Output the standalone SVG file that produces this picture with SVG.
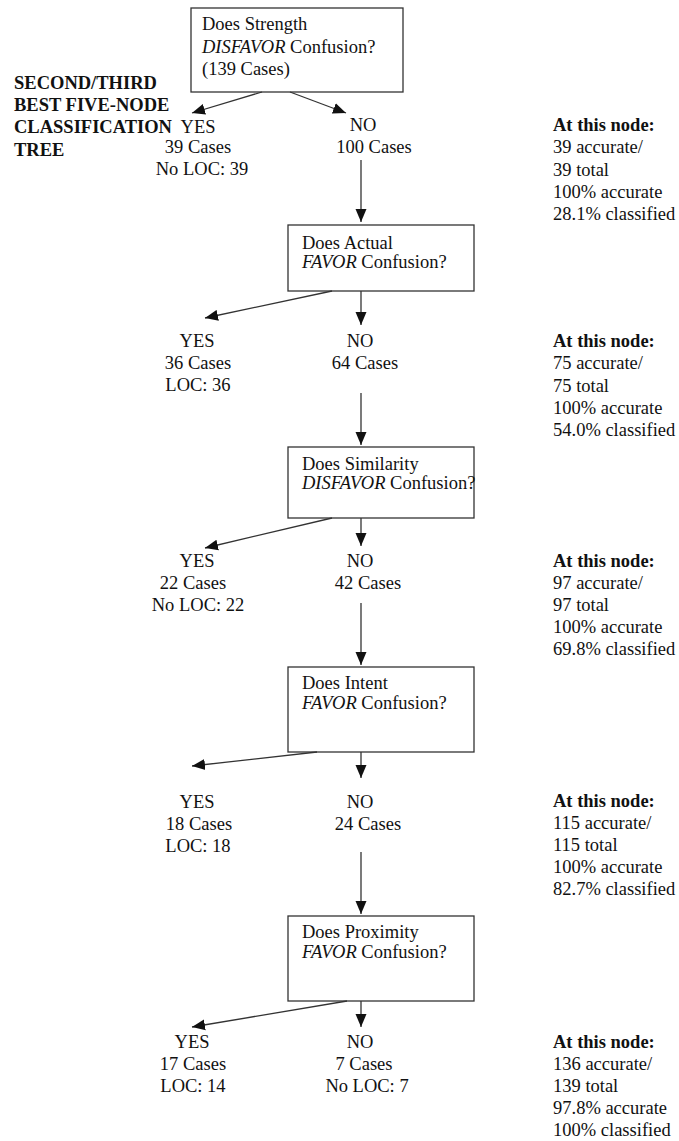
<svg xmlns="http://www.w3.org/2000/svg" width="679" height="1141" viewBox="0 0 679 1141">
<style>
text{font-family:"Liberation Serif","Times New Roman",serif;font-size:18.5px;fill:#111}
.b{font-weight:bold}
.c{text-anchor:middle}
.i{font-style:italic}
rect{fill:#fff;stroke:#333;stroke-width:1.3}
.con line{stroke:#333;stroke-width:1.3;marker-end:url(#ah)}
</style>
<defs>
<marker id="ah" markerUnits="userSpaceOnUse" markerWidth="14" markerHeight="12" refX="13" refY="6" orient="auto">
<path d="M0,0.5 L13,6 L0,11.5 z" fill="#111"/>
</marker>
</defs>
<rect width="679" height="1141" style="fill:#fff;stroke:none"/>
<g id="title">
<text class="b" x="14" y="89">SECOND/THIRD</text>
<text class="b" x="14" y="111">BEST FIVE-NODE</text>
<text class="b" x="14" y="133">CLASSIFICATION</text>
<text class="b" x="14" y="156">TREE</text>
</g>
<g id="n1">
<rect x="191" y="8" width="212" height="84"/>
<text x="202" y="30">Does Strength</text>
<text x="202" y="53"><tspan class="i">DISFAVOR</tspan> Confusion?</text>
<text x="202" y="75">(139 Cases)</text>
</g>
<g id="n2">
<rect x="288" y="225" width="186" height="66"/>
<text x="302" y="249">Does Actual</text>
<text x="302" y="268"><tspan class="i">FAVOR</tspan> Confusion?</text>
</g>
<g id="n3">
<rect x="288" y="447" width="186" height="71"/>
<text x="302" y="470">Does Similarity</text>
<text x="302" y="489"><tspan class="i">DISFAVOR</tspan> Confusion?</text>
</g>
<g id="n4">
<rect x="288" y="667" width="186" height="85"/>
<text x="302" y="689">Does Intent</text>
<text x="302" y="709"><tspan class="i">FAVOR</tspan> Confusion?</text>
</g>
<g id="n5">
<rect x="288" y="916" width="186" height="85"/>
<text x="302" y="938">Does Proximity</text>
<text x="302" y="958"><tspan class="i">FAVOR</tspan> Confusion?</text>
</g>
<g id="yes1">
<text class="c" x="198" y="133">YES</text>
<text class="c" x="198" y="153">39 Cases</text>
<text class="c" x="202" y="175">No LOC: 39</text>
</g>
<g id="no1">
<text class="c" x="363" y="131">NO</text>
<text class="c" x="374" y="153">100 Cases</text>
</g>
<g id="yes2">
<text class="c" x="197" y="347">YES</text>
<text class="c" x="198" y="369">36 Cases</text>
<text class="c" x="198" y="391">LOC: 36</text>
</g>
<g id="no2">
<text class="c" x="360" y="347">NO</text>
<text class="c" x="365" y="369">64 Cases</text>
</g>
<g id="yes3">
<text class="c" x="197" y="567">YES</text>
<text class="c" x="193" y="589">22 Cases</text>
<text class="c" x="198" y="611">No LOC: 22</text>
</g>
<g id="no3">
<text class="c" x="360" y="567">NO</text>
<text class="c" x="368" y="589">42 Cases</text>
</g>
<g id="yes4">
<text class="c" x="197" y="808">YES</text>
<text class="c" x="199" y="830">18 Cases</text>
<text class="c" x="198" y="852">LOC: 18</text>
</g>
<g id="no4">
<text class="c" x="360" y="808">NO</text>
<text class="c" x="368" y="830">24 Cases</text>
</g>
<g id="yes5">
<text class="c" x="192" y="1048">YES</text>
<text class="c" x="193" y="1070">17 Cases</text>
<text class="c" x="193" y="1092">LOC: 14</text>
</g>
<g id="no5">
<text class="c" x="360" y="1048">NO</text>
<text class="c" x="364" y="1070">7 Cases</text>
<text class="c" x="367" y="1092">No LOC: 7</text>
</g>
<g id="stats1">
<text class="b" x="553" y="131">At this node:</text>
<text x="553" y="153">39 accurate/</text>
<text x="553" y="176">39 total</text>
<text x="553" y="198">100% accurate</text>
<text x="553" y="220">28.1% classified</text>
</g>
<g id="stats2">
<text class="b" x="553" y="347">At this node:</text>
<text x="553" y="369">75 accurate/</text>
<text x="553" y="392">75 total</text>
<text x="553" y="414">100% accurate</text>
<text x="553" y="436">54.0% classified</text>
</g>
<g id="stats3">
<text class="b" x="553" y="567">At this node:</text>
<text x="553" y="589">97 accurate/</text>
<text x="553" y="611">97 total</text>
<text x="553" y="633">100% accurate</text>
<text x="553" y="655">69.8% classified</text>
</g>
<g id="stats4">
<text class="b" x="553" y="807">At this node:</text>
<text x="553" y="829">115 accurate/</text>
<text x="553" y="851">115 total</text>
<text x="553" y="873">100% accurate</text>
<text x="553" y="895">82.7% classified</text>
</g>
<g id="stats5">
<text class="b" x="553" y="1048">At this node:</text>
<text x="553" y="1070">136 accurate/</text>
<text x="553" y="1092">139 total</text>
<text x="553" y="1114">97.8% accurate</text>
<text x="553" y="1136">100% classified</text>
</g>
<g id="connectors" class="con">
<line x1="262" y1="92" x2="192" y2="113"/>
<line x1="290" y1="92" x2="346" y2="113"/>
<line x1="361" y1="160" x2="361" y2="222"/>
<line x1="332" y1="291" x2="205" y2="318"/>
<line x1="361" y1="291" x2="361" y2="325"/>
<line x1="361" y1="393" x2="361" y2="445"/>
<line x1="332" y1="518" x2="205" y2="548"/>
<line x1="361" y1="518" x2="361" y2="546"/>
<line x1="361" y1="603" x2="361" y2="665"/>
<line x1="317" y1="752" x2="192" y2="766"/>
<line x1="361" y1="752" x2="361" y2="778"/>
<line x1="361" y1="852" x2="361" y2="914"/>
<line x1="347" y1="1001" x2="192" y2="1027"/>
<line x1="361" y1="1001" x2="361" y2="1027"/>
</g>
</svg>
